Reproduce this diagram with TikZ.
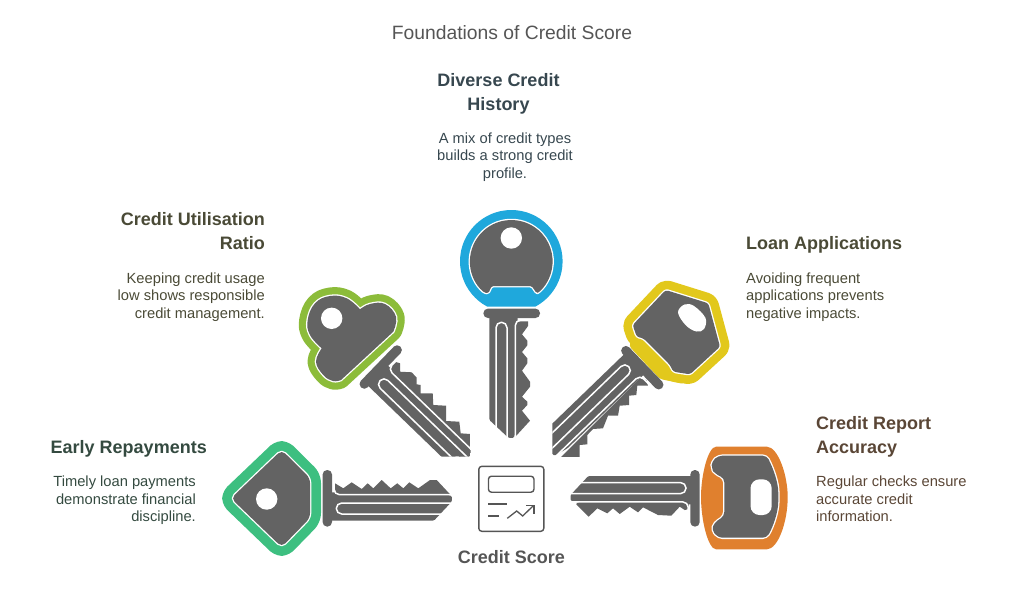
\documentclass[tikz,border=0pt]{standalone}
\usepackage{fontspec}
\setmainfont{Liberation Sans}
\definecolor{keygrey}{HTML}{636363}
\definecolor{ringblue}{HTML}{1FA8DC}
\definecolor{ringlime}{HTML}{8CBC3A}
\definecolor{ringteal}{HTML}{3DBF80}
\definecolor{ringyellow}{HTML}{E2C81C}
\definecolor{ringorange}{HTML}{E0802E}
\definecolor{inkblue}{HTML}{37474F}
\definecolor{inkolive}{HTML}{4A4A36}
\definecolor{inkbrown}{HTML}{5A4636}
\definecolor{inkgreen}{HTML}{344A40}
\definecolor{inkgrey}{HTML}{555555}
\tikzset{
  keyhead/.style 2 args={fill=keygrey,
    preaction={draw=#1, line width=#2, line join=round},
    preaction={draw=white, line width=2.6pt, line join=round}},
  keygroove/.style={draw=white, line width=1.5pt, rounded corners=5.4pt},
  keystem/.pic={
    \fill[keygrey, rounded corners=4.5pt] (-28.3,-4.7) rectangle (28.3,4.7);
    \fill[keygrey, rounded corners=1.2pt] (-22.3,0) -- (-22.3,106.7) -- (-3.3,124.5) -- (2.3,124.5) -- (6,110) -- (6,0) -- cycle;
    \draw[keygroove] (-15.7,117) -- (-15.7,9) -- (-4.7,9) -- (-4.7,127);
    \draw[keygroove] (3.6,127) -- (3.6,6.8) -- (32,6.8);
  },
}
\begin{document}
\begin{tikzpicture}[x=1pt, y=-1pt,
    heading/.style={font=\bfseries\fontsize{18}{23.5}\selectfont, inner sep=0pt},
    detail/.style={font=\fontsize{14.7}{17.5}\selectfont, inner sep=0pt}]
  \useasboundingbox (0,0) rectangle (1024,614);

  \node[font=\fontsize{19.3}{22}\selectfont, text=inkgrey, inner sep=0pt] (title) at (512,33) {Foundations of Credit Score};

  % blue key
  \begin{scope}
    \clip[rounded corners=2pt] (440,200) rectangle (590,306.7);
    \fill[ringblue] (511.3,261.3) circle (51.3);
  \end{scope}
  \path[keyhead={ringblue}{2pt}, rounded corners=1.5pt] (484.1,292.4) arc[start angle=228.8, end angle=-48.8, radius=41.3pt]
    -- (536.7,293.3) -- (531.7,286) -- (491.7,286) -- (488.3,293.3) -- cycle;
  \fill[white] (511.3,238) circle (10.7);
  \fill[keygrey] (516,321.3) -- (528,321.3) -- (528,326) -- (522,334.3) -- (527.3,340.7) -- (527.3,345.3) -- (522,352) -- (527.3,358.3) -- (527.3,363.3) -- (522,370.7) -- (530,381.7) -- (530,386.7) -- (522,396.7) -- (527.3,401.7) -- (527.3,405) -- (522,410.7) -- (530,420.7) -- (516,436) -- cycle;
  \pic at (511.7,313.3) {keystem};

  % lime key
  \path[keyhead={ringlime}{17pt}] plot[smooth, tension=.7] coordinates {(393.3,331.7) (396,316.7) (385,304) (370,304) (360,309.3)}
    -- plot[smooth, tension=.7] coordinates {(360,309.3) (346.7,298.3) (330,296) (315,303.3) (307.7,320) (310,335) (321.7,348.3)}
    -- plot[smooth, tension=.7] coordinates {(321.7,348.3) (316,361.7) (323.3,375) (333,381) (341,380)} -- cycle;
  \fill[white] (331.7,318.3) circle (10.7);
  \begin{scope}
    \clip[rounded corners=1.5pt] (300,280) rectangle (470.7,456.5);
    \fill[keygrey] (395,361.7) -- (400,363.3) -- (400,371.7) -- (411.7,372.3) -- (416.7,377.7) -- (416.7,384.3) -- (420.7,385) -- (420.7,393.3) -- (432.7,393.3) -- (433.3,405) -- (446,405.7) -- (446,421) -- (459.3,421.7) -- (460.7,433.3) -- (470,434) -- (470.7,460) -- (462,460) -- (388,370) -- cycle;
    \pic[rotate=46] at (380.7,367) {keystem};
  \end{scope}

  % yellow key
  \fill[ringyellow, rounded corners=3pt] (636,330) -- (629,346) -- (660,379) -- (684,384) -- (680,365) -- cycle;
  \path[keyhead={ringyellow}{20pt}, rounded corners=2.5pt] (665.7,290) -- (708.3,303.3) -- (720,346.7) -- (690,374.3) -- (673.3,371.7) -- (670,365) -- (643.3,338.3) -- (636.7,336.7) -- (632.7,325) -- cycle;
  \fill[white] plot[smooth cycle, tension=.6] coordinates {(678,312.5) (684.5,304.5) (694,306) (705.5,318) (704,329) (696.5,331.5) (686,325.5)};
  \begin{scope}
    \clip[rounded corners=1.5pt] (552.3,330) rectangle (700,456.8);
    \fill[keygrey] (646.3,380) -- (648,385.7) -- (637.3,385.7) -- (636.3,395) -- (629,395.7) -- (629,405) -- (619.7,405.7) -- (618,415.7) -- (608,415.7) -- (603,428.3) -- (593,429) -- (587.3,435) -- (587.3,444.3) -- (579.7,445) -- (579.7,460) -- (558,460) -- (640,378) -- cycle;
    \pic[rotate=-46] at (642.3,367.7) {keystem};
  \end{scope}

  % teal key
  \path[keyhead={ringteal}{22pt}, rounded corners=5pt] (281.7,450) -- (310,478) -- (310,518) -- (281.7,547) -- (231,498.3) -- cycle;
  \fill[white] (266.7,499) circle (10.7);
  \fill[keygrey] (335,483.3) -- (343.3,488.3) -- (351.7,482.3) -- (361.7,489) -- (367.7,483.3) -- (373.3,488.3) -- (381.7,480) -- (390.7,488.3) -- (397.3,483.3) -- (403.3,488.3) -- (409.3,482.3) -- (418.3,488.3) -- (430,480) -- (436.7,480) -- (450.7,495) -- (335,495) -- cycle;
  \pic[rotate=90] at (327.3,498.3) {keystem};

  % orange key
  \fill[ringorange] (716,446.7) -- (767,446.7) .. controls (778,447) and (787.7,475) .. (787.7,497) .. controls (787.7,522) and (778,549) .. (767,549.3) -- (716,549.3) .. controls (708,549) and (701,520) .. (701,497) .. controls (701,475) and (708,447) .. (716,446.7) -- cycle;
  \path[keyhead={ringorange}{3pt}, rounded corners=4pt] (711.7,461.7) -- (718.3,455.7) -- (766.7,455.7) .. controls (773,468) and (778.3,482) .. (778.3,497) .. controls (778.3,512) and (773,527) .. (766.7,537.7) -- (718.3,537.7) -- (711.7,530) -- (714.3,522.7) -- (724.3,516) -- (724.3,478.3) -- (714.3,473.3) -- (711.7,468.3) -- cycle;
  \fill[white, rounded corners=9pt] (750.5,479.3) rectangle (771.7,515);
  \fill[keygrey] (576.3,504.3) -- (588.7,516.7) -- (597.3,508.3) -- (607.3,513.3) -- (613,508.3) -- (619.7,514) -- (629.7,506.7) -- (638,512.3) -- (643,507.3) -- (658,515) -- (671.3,515.7) -- (679.7,506.7) -- (684.7,510) -- (688.7,509) -- (688.7,503.3) -- (577,503) -- cycle;
  \pic[rotate=-90] at (695,498.3) {keystem};

  % score icon
  \node[draw=inkgrey, line width=1.4pt, rounded corners=3pt, minimum width=65pt, minimum height=65pt, inner sep=0pt] (scoreicon) at (511.3,498.8) {};
  \node[draw=inkgrey, line width=1.4pt, rounded corners=3pt, minimum width=45.5pt, minimum height=16pt, inner sep=0pt] (scorebar) at (511.2,484.2) {};
  \draw[inkgrey, line width=1.3pt] (488.3,504) -- (506.7,504);
  \draw[inkgrey, line width=1.3pt] (488.3,516) -- (499,516);
  \draw[inkgrey, line width=1.3pt] (507.3,518.3) -- (516.7,511) -- (522.7,516) -- (533.3,505.7);
  \draw[inkgrey, line width=1.3pt] (526,505.7) -- (534,505.7) -- (534,514);
  \node[heading, text=inkgrey] (scorelabel) at (511.5,557) {Credit Score};

  % labels
  \node[heading, text=inkblue, align=center, anchor=north] (diversehead) at (498.5,73.5) {Diverse Credit\\History};
  \node[detail, text=inkblue, align=center, anchor=north] (diversetext) at (505,132.5) {A mix of credit types\\builds a strong credit\\profile.};
  \node[heading, text=inkolive, align=right, anchor=north east] (ratiohead) at (265,212.5) {Credit Utilisation\\Ratio};
  \node[detail, text=inkolive, align=right, anchor=north east] (ratiotext) at (265,272.5) {Keeping credit usage\\low shows responsible\\credit management.};
  \node[heading, text=inkolive, align=left, anchor=north west] (loanhead) at (746,236.5) {Loan Applications};
  \node[detail, text=inkolive, align=left, anchor=north west] (loantext) at (746,272.5) {Avoiding frequent\\applications prevents\\negative impacts.};
  \node[heading, text=inkbrown, align=left, anchor=north west] (reporthead) at (816,416.5) {Credit Report\\Accuracy};
  \node[detail, text=inkbrown, align=left, anchor=north west] (reporttext) at (816,476) {Regular checks ensure\\accurate credit\\information.};
  \node[heading, text=inkgreen, align=right, anchor=north east] (earlyhead) at (207,440.5) {Early Repayments};
  \node[detail, text=inkgreen, align=right, anchor=north east] (earlytext) at (196,476) {Timely loan payments\\demonstrate financial\\discipline.};
\end{tikzpicture}
\end{document}
